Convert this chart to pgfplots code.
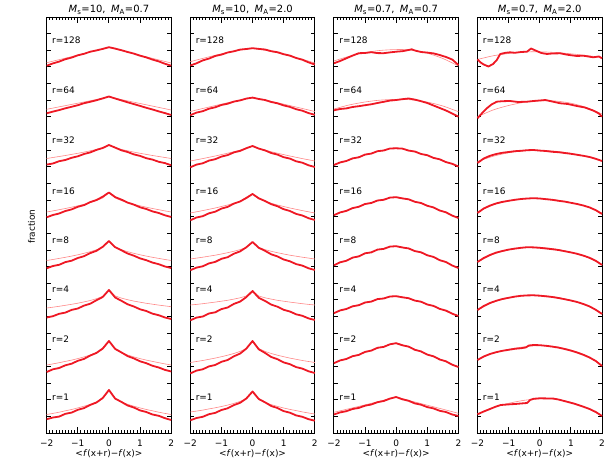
\documentclass[border=0pt]{standalone}
\usepackage{fontspec}
\setmainfont{DejaVu Sans}
\usepackage{pgfplots}
\pgfplotsset{compat=1.18}
\usetikzlibrary{calc}
\definecolor{datared}{RGB}{238,24,36}
\definecolor{fitred}{RGB}{255,135,135}
\newcommand{\lbl}{\fontsize{9}{10}\selectfont}
\pgfplotsset{
  panel/.style={
    scale only axis, width=124.5bp, height=416bp,
    xmin=-2, xmax=2, ymin=-433, ymax=-17,
    clip=false,
    axis line style={line width=0.9bp, black},
    xtick={-2,-1,0,1,2},
    xticklabels={−2,−1,0,1,2},
    ytick={-433,-416.36,...,-16},
    yticklabels={},
    ytick pos=both,
    tick align=inside,
    major tick length=3.8bp,
    ytick style={line width=0.9bp, black},
    xtick style={draw=none},
    xticklabel style={font=\lbl, anchor=base, yshift=-13.7bp},
  },
  dat/.style={datared, line width=1.8bp, line join=round, mark=none},
  fitc/.style={fitred, line width=0.6bp, mark=none},
  fits/.style={fitred, line width=0.6bp, mark=none, smooth},
}
\newcommand{\xticks}{%
  \pgfplotsinvokeforeach{-1.9,-1.8,...,1.95}{%
    \draw[line width=0.9bp, black] (axis cs:##1,-433) -- (axis cs:##1,-429.5);
    \draw[line width=0.9bp, black] (axis cs:##1,-17) -- (axis cs:##1,-20.5);}
  \pgfplotsinvokeforeach{-1,0,1}{%
    \draw[line width=1bp, black] (axis cs:##1,-433) -- (axis cs:##1,-427);
    \draw[line width=1bp, black] (axis cs:##1,-17) -- (axis cs:##1,-23);}
}
\newcommand{\rlabels}{%
  \node[anchor=west, inner sep=0, font=\lbl] at (axis cs:-1.83,-40.7) {r=128};
  \node[anchor=west, inner sep=0, font=\lbl] at (axis cs:-1.83,-90) {r=64};
  \node[anchor=west, inner sep=0, font=\lbl] at (axis cs:-1.83,-140) {r=32};
  \node[anchor=west, inner sep=0, font=\lbl] at (axis cs:-1.83,-191) {r=16};
  \node[anchor=west, inner sep=0, font=\lbl] at (axis cs:-1.83,-240) {r=8};
  \node[anchor=west, inner sep=0, font=\lbl] at (axis cs:-1.83,-289.5) {r=4};
  \node[anchor=west, inner sep=0, font=\lbl] at (axis cs:-1.83,-339) {r=2};
  \node[anchor=west, inner sep=0, font=\lbl] at (axis cs:-1.83,-397) {r=1};
}
\newcommand{\ptitle}[2]{%
  \node[anchor=base, inner sep=0, font=\fontsize{10}{12}\selectfont] at (axis cs:0,-12.8)
    {\textit{M}\textsubscript{s}=#1,\hspace{0.55em}\textit{M}\textsubscript{A}=#2};
}
\begin{document}
\begin{tikzpicture}
% ---------------- Panel 1: Ms=10, MA=0.7
\begin{axis}[panel, at={(0bp,0bp)}, anchor=south west]
\coordinate (BL) at (axis cs:-2,-433);
\ptitle{10}{0.7}
\rlabels
\xticks
% r=128
\addplot[fitc] coordinates {(-2,-62.7)(-1,-55.1)(0,-47.5)(1,-55.25)(2,-63.0)};
\addplot[dat] coordinates {(-2,-65.7)(-1.8,-63.4)(-1.6,-61.6)(-1.4,-59.2)(-1.2,-57.6)(-1,-55.3)(-0.8,-53.8)(-0.6,-51.7)(-0.4,-50.4)(-0.2,-48.9)(0,-47.2)(0.2,-48.6)(0.4,-50.2)(0.6,-52.0)(0.8,-53.6)(1,-55.7)(1.2,-57.4)(1.4,-59.6)(1.6,-61.4)(1.8,-63.8)(2,-65.7)};
% r=64
\addplot[fitc] coordinates {(-2,-109.3)(-1,-103.2)(0,-97)(1,-103.5)(2,-110)};
\addplot[dat] coordinates {(-2,-113.3)(-1.8,-111.6)(-1.6,-110.1)(-1.4,-108.3)(-1.2,-106.8)(-1,-105.2)(-0.8,-103.2)(-0.6,-101.8)(-0.4,-100.2)(-0.2,-98.4)(0,-96.5)(0.2,-98.5)(0.4,-100.4)(0.6,-102.3)(0.8,-104.1)(1,-105.9)(1.2,-107.8)(1.4,-109.5)(1.6,-111.4)(1.8,-113.1)(2,-115)};
% r=32
\addplot[fitc] coordinates {(-2,-158.5)(-1.8,-157.5)(-1.6,-156.5)(-1.4,-155.5)(-1.2,-154.4)(-1,-153.3)(-0.8,-152.1)(-0.6,-150.8)(-0.4,-149.4)(-0.2,-147.7)(0,-145)(0.2,-147.7)(0.4,-149.4)(0.6,-150.8)(0.8,-152.1)(1,-153.3)(1.2,-154.4)(1.4,-155.5)(1.6,-156.5)(1.8,-157.5)(2,-158.5)};
\addplot[dat] coordinates {(-2,-164.6)(-1.8,-163.5)(-1.6,-161.2)(-1.4,-160.0)(-1.2,-157.8)(-1,-156.3)(-0.8,-154.0)(-0.6,-152.4)(-0.4,-149.9)(-0.2,-148.0)(0,-145.0)(0.2,-147.6)(0.4,-150.3)(0.6,-152.0)(0.8,-154.4)(1,-155.9)(1.2,-158.2)(1.4,-159.6)(1.6,-161.8)(1.8,-163.1)(2,-165.3)};
% r=16
\addplot[fitc] coordinates {(-2,-212)(-1.8,-210.9)(-1.6,-209.7)(-1.4,-208.5)(-1.2,-207.2)(-1,-205.8)(-0.8,-204.3)(-0.6,-202.6)(-0.4,-200.6)(-0.2,-198.0)(0,-192.5)(0.2,-198.0)(0.4,-200.6)(0.6,-202.6)(0.8,-204.3)(1,-205.8)(1.2,-207.2)(1.4,-208.5)(1.6,-209.7)(1.8,-210.9)(2,-212)};
\addplot[dat] coordinates {(-2,-217.3)(-1.8,-215.0)(-1.6,-213.5)(-1.4,-211.0)(-1.2,-209.4)(-1,-206.8)(-0.8,-205.1)(-0.6,-202.1)(-0.4,-200.0)(-0.2,-196.7)(0,-192.5)(0.2,-197.1)(0.4,-199.6)(0.6,-202.6)(0.8,-204.6)(1,-207.3)(1.2,-209.0)(1.4,-211.4)(1.6,-213.0)(1.8,-215.3)(2,-217)};
% r=8
\addplot[fitc] coordinates {(-2,-260.5)(-1.8,-259.5)(-1.6,-258.4)(-1.4,-257.3)(-1.2,-256.1)(-1,-254.8)(-0.8,-253.3)(-0.6,-251.7)(-0.4,-249.7)(-0.2,-247.2)(0,-241)(0.2,-247.2)(0.4,-249.7)(0.6,-251.7)(0.8,-253.3)(1,-254.8)(1.2,-256.1)(1.4,-257.3)(1.6,-258.4)(1.8,-259.5)(2,-260.5)};
\addplot[dat] coordinates {(-2,-268.3)(-1.8,-266.0)(-1.6,-264.8)(-1.4,-262.1)(-1.2,-260.7)(-1,-258.0)(-0.8,-256.2)(-0.6,-253.1)(-0.4,-250.8)(-0.2,-246.8)(0,-241)(0.2,-247.2)(0.4,-250.3)(0.6,-253.5)(0.8,-255.7)(1,-258.4)(1.2,-260.2)(1.4,-262.6)(1.6,-264.2)(1.8,-266.5)(2,-268)};
% r=4
\addplot[fitc] coordinates {(-2,-308)(-1.8,-307.2)(-1.6,-306.3)(-1.4,-305.3)(-1.2,-304.3)(-1,-303.2)(-0.8,-301.9)(-0.6,-300.5)(-0.4,-298.7)(-0.2,-296.4)(0,-290)(0.2,-295.9)(0.4,-298.1)(0.6,-299.7)(0.8,-301.1)(1,-302.2)(1.2,-303.3)(1.4,-304.2)(1.6,-305.1)(1.8,-305.9)(2,-306.7)};
\addplot[dat] coordinates {(-2,-317.5)(-1.8,-316.2)(-1.6,-313.8)(-1.4,-312.6)(-1.2,-309.9)(-1,-308.5)(-0.8,-305.6)(-0.6,-303.7)(-0.4,-300.2)(-0.2,-297.0)(0,-290)(0.2,-297.5)(0.4,-300.8)(0.6,-304.3)(0.8,-306.5)(1,-309.3)(1.2,-311.0)(1.4,-313.7)(1.6,-315.2)(1.8,-317.5)(2,-319)};
% r=2
\addplot[fitc] coordinates {(-2,-365)(-1.8,-363.9)(-1.6,-362.7)(-1.4,-361.4)(-1.2,-360.1)(-1,-358.6)(-0.8,-356.9)(-0.6,-355.0)(-0.4,-352.6)(-0.2,-349.5)(0,-341)(0.2,-349.5)(0.4,-352.6)(0.6,-355.0)(0.8,-356.9)(1,-358.6)(1.2,-360.1)(1.4,-361.4)(1.6,-362.7)(1.8,-363.9)(2,-365)};
\addplot[dat] coordinates {(-2,-372.0)(-1.8,-369.3)(-1.6,-368.0)(-1.4,-365.3)(-1.2,-363.7)(-1,-360.8)(-0.8,-358.9)(-0.6,-355.5)(-0.4,-352.9)(-0.2,-348.5)(0,-341)(0.2,-348.9)(0.4,-352.4)(0.6,-356.1)(0.8,-358.4)(1,-361.3)(1.2,-363.2)(1.4,-365.8)(1.6,-367.5)(1.8,-369.9)(2,-371.5)};
% r=1
\addplot[fitc] coordinates {(-2,-414.5)(-1.8,-413.4)(-1.6,-412.2)(-1.4,-410.8)(-1.2,-409.5)(-1,-407.9)(-0.8,-406.2)(-0.6,-404.3)(-0.4,-401.9)(-0.2,-398.7)(0,-390)(0.2,-398.7)(0.4,-401.9)(0.6,-404.3)(0.8,-406.2)(1,-407.9)(1.2,-409.5)(1.4,-410.8)(1.6,-412.2)(1.8,-413.4)(2,-414.5)};
\addplot[dat] coordinates {(-2,-419.2)(-1.8,-417.5)(-1.6,-416.6)(-1.4,-413.8)(-1.2,-412.6)(-1,-409.8)(-0.8,-408.1)(-0.6,-404.9)(-0.4,-402.5)(-0.2,-398.0)(0,-390)(0.2,-398.6)(0.4,-401.9)(0.6,-405.5)(0.8,-407.5)(1,-410.4)(1.2,-412.0)(1.4,-414.5)(1.6,-415.8)(1.8,-418.2)(2,-420)};
\end{axis}
% ---------------- Panel 2: Ms=10, MA=2.0
\begin{axis}[panel, at={(143.6bp,0bp)}, anchor=south west]
\ptitle{10}{2.0}
\rlabels
\xticks
% r=128
\addplot[fits] coordinates {(-2,-61.7)(-1.6,-58.4)(-1.2,-55.3)(-0.8,-52.5)(-0.4,-50.1)(0,-48.5)(0.4,-50.3)(0.8,-52.9)(1.2,-56.0)(1.6,-59.3)(2,-63.0)};
\addplot[dat] coordinates {(-2,-65.5)(-1.8,-63.3)(-1.6,-60.4)(-1.4,-58.6)(-1.2,-56.0)(-1,-54.6)(-0.8,-52.5)(-0.6,-51.3)(-0.4,-49.6)(-0.2,-49.0)(0,-48.2)(0.2,-48.9)(0.4,-49.5)(0.6,-51.2)(0.8,-52.2)(1,-54.2)(1.2,-55.6)(1.4,-58.0)(1.6,-59.7)(1.8,-62.4)(2,-64.5)};
% r=64
\addplot[fits] coordinates {(-2,-111.5)(-1.6,-108.5)(-1.2,-105.6)(-0.8,-102.7)(-0.4,-100.0)(0,-97.7)(0.4,-100.0)(0.8,-102.7)(1.2,-105.6)(1.6,-108.5)(2,-111.5)};
\addplot[dat] coordinates {(-2,-115.2)(-1.8,-112.6)(-1.6,-111.2)(-1.4,-108.7)(-1.2,-107.3)(-1,-105.0)(-0.8,-103.7)(-0.6,-101.6)(-0.4,-100.4)(-0.2,-98.6)(0,-97.6)(0.2,-99.0)(0.4,-100.0)(0.6,-102.0)(0.8,-103.3)(1,-105.4)(1.2,-106.9)(1.4,-109.2)(1.6,-110.7)(1.8,-113.1)(2,-114.8)};
% r=32
\addplot[fitc] coordinates {(-2,-161)(-1.8,-159.8)(-1.6,-158.6)(-1.4,-157.3)(-1.2,-156.0)(-1,-154.6)(-0.8,-153.2)(-0.6,-151.7)(-0.4,-150.1)(-0.2,-148.4)(0,-146)(0.2,-148.4)(0.4,-150.1)(0.6,-151.7)(0.8,-153.2)(1,-154.6)(1.2,-156.0)(1.4,-157.3)(1.6,-158.6)(1.8,-159.8)(2,-161)};
\addplot[dat] coordinates {(-2,-167.3)(-1.8,-164.6)(-1.6,-163.3)(-1.4,-160.6)(-1.2,-159.2)(-1,-156.6)(-0.8,-155.1)(-0.6,-152.4)(-0.4,-150.9)(-0.2,-148.2)(0,-146)(0.2,-148.6)(0.4,-150.4)(0.6,-153.0)(0.8,-154.6)(1,-157.2)(1.2,-158.6)(1.4,-161.3)(1.6,-162.7)(1.8,-165.3)(2,-167)};
% r=16
\addplot[fitc] coordinates {(-2,-213)(-1.8,-211.8)(-1.6,-210.6)(-1.4,-209.3)(-1.2,-208.0)(-1,-206.5)(-0.8,-205.0)(-0.6,-203.2)(-0.4,-201.2)(-0.2,-198.8)(0,-194)(0.2,-198.8)(0.4,-201.2)(0.6,-203.2)(0.8,-205.0)(1,-206.5)(1.2,-208.0)(1.4,-209.3)(1.6,-210.6)(1.8,-211.8)(2,-213)};
\addplot[dat] coordinates {(-2,-220.3)(-1.8,-217.5)(-1.6,-216.2)(-1.4,-213.3)(-1.2,-211.7)(-1,-208.6)(-0.8,-206.9)(-0.6,-203.6)(-0.4,-201.5)(-0.2,-197.9)(0,-194)(0.2,-198.3)(0.4,-201.0)(0.6,-204.2)(0.8,-206.2)(1,-209.2)(1.2,-211.0)(1.4,-213.9)(1.6,-215.5)(1.8,-218.2)(2,-220)};
% r=8
\addplot[fitc] coordinates {(-2,-259)(-1.8,-258.1)(-1.6,-257.2)(-1.4,-256.2)(-1.2,-255.2)(-1,-254.0)(-0.8,-252.7)(-0.6,-251.3)(-0.4,-249.6)(-0.2,-247.4)(0,-242)(0.2,-247.4)(0.4,-249.6)(0.6,-251.3)(0.8,-252.7)(1,-254.0)(1.2,-255.2)(1.4,-256.2)(1.6,-257.2)(1.8,-258.1)(2,-259)};
\addplot[dat] coordinates {(-2,-270.2)(-1.8,-267.6)(-1.6,-266.3)(-1.4,-263.4)(-1.2,-261.9)(-1,-258.8)(-0.8,-257.2)(-0.6,-253.7)(-0.4,-251.4)(-0.2,-247.3)(0,-242)(0.2,-247.8)(0.4,-250.8)(0.6,-254.3)(0.8,-256.4)(1,-259.5)(1.2,-261.3)(1.4,-264.1)(1.6,-265.6)(1.8,-268.3)(2,-270)};
% r=4
\addplot[fitc] coordinates {(-2,-305)(-1.8,-304.4)(-1.6,-303.7)(-1.4,-302.9)(-1.2,-302.1)(-1,-301.2)(-0.8,-300.3)(-0.6,-299.1)(-0.4,-297.8)(-0.2,-296.0)(0,-291)(0.2,-296.0)(0.4,-297.8)(0.6,-299.1)(0.8,-300.3)(1,-301.2)(1.2,-302.1)(1.4,-302.9)(1.6,-303.7)(1.8,-304.4)(2,-305)};
\addplot[dat] coordinates {(-2,-320.3)(-1.8,-317.6)(-1.6,-316.5)(-1.4,-313.5)(-1.2,-312.3)(-1,-309.1)(-0.8,-307.5)(-0.6,-303.9)(-0.4,-301.6)(-0.2,-297.1)(0,-291)(0.2,-297.8)(0.4,-300.9)(0.6,-304.6)(0.8,-306.7)(1,-309.8)(1.2,-311.5)(1.4,-314.3)(1.6,-315.8)(1.8,-318.4)(2,-320)};
% r=2
\addplot[fitc] coordinates {(-2,-362.5)(-1.8,-361.5)(-1.6,-360.5)(-1.4,-359.3)(-1.2,-358.1)(-1,-356.7)(-0.8,-355.2)(-0.6,-353.5)(-0.4,-351.4)(-0.2,-348.6)(0,-341)(0.2,-348.6)(0.4,-351.4)(0.6,-353.5)(0.8,-355.2)(1,-356.7)(1.2,-358.1)(1.4,-359.3)(1.6,-360.5)(1.8,-361.5)(2,-362.5)};
\addplot[dat] coordinates {(-2,-373.4)(-1.8,-370.6)(-1.6,-369.3)(-1.4,-366.4)(-1.2,-365.0)(-1,-361.8)(-0.8,-360.0)(-0.6,-356.3)(-0.4,-353.6)(-0.2,-348.6)(0,-341)(0.2,-349.3)(0.4,-352.9)(0.6,-357.0)(0.8,-359.2)(1,-362.4)(1.2,-364.2)(1.4,-367.1)(1.6,-368.6)(1.8,-371.3)(2,-373)};
% r=1
\addplot[fitc] coordinates {(-2,-412)(-1.8,-411.1)(-1.6,-410.1)(-1.4,-408.9)(-1.2,-407.8)(-1,-406.5)(-0.8,-405.1)(-0.6,-403.4)(-0.4,-401.4)(-0.2,-398.8)(0,-391.5)(0.2,-399.5)(0.4,-402.4)(0.6,-404.6)(0.8,-406.4)(1,-408.0)(1.2,-409.4)(1.4,-410.6)(1.6,-411.9)(1.8,-413.0)(2,-414)};
\addplot[dat] coordinates {(-2,-420.3)(-1.8,-418.0)(-1.6,-416.8)(-1.4,-414.2)(-1.2,-412.9)(-1,-410.0)(-0.8,-408.3)(-0.6,-405.1)(-0.4,-402.8)(-0.2,-398.5)(0,-391.5)(0.2,-399.0)(0.4,-402.3)(0.6,-406.0)(0.8,-408.0)(1,-411.1)(1.2,-412.7)(1.4,-415.4)(1.6,-416.8)(1.8,-419.2)(2,-420.7)};
\end{axis}
% ---------------- Panel 3: Ms=0.7, MA=0.7
\begin{axis}[panel, at={(287.2bp,0bp)}, anchor=south west]
\ptitle{0.7}{0.7}
\rlabels
\xticks
% r=128
\addplot[fits] coordinates {(-2,-61.0)(-1.5,-56.2)(-1,-52.7)(-0.5,-50.4)(0.1,-49.5)(0.5,-50.2)(1,-53.2)(1.5,-58.5)(2,-66.0)};
\addplot[dat] coordinates {(-2,-63.3)(-1.8,-61.0)(-1.6,-58.3)(-1.4,-55.6)(-1.2,-53.2)(-1,-53.0)(-0.8,-52.2)(-0.6,-53.1)(-0.4,-53.2)(-0.2,-52.4)(0,-51.7)(0.2,-51.2)(0.4,-50.0)(0.5,-49.3)(0.6,-50.5)(0.8,-52.0)(1,-52.6)(1.2,-53.4)(1.4,-55.0)(1.6,-57.0)(1.8,-59.5)(2,-65.0)};
% r=64
\addplot[fits] coordinates {(-2,-109)(-1.5,-104.9)(-1,-102.0)(-0.5,-100.1)(0.1,-99.3)(0.5,-99.9)(1,-102.1)(1.5,-106.0)(2,-111.7)};
\addplot[dat] coordinates {(-2,-110.3)(-1.8,-109.0)(-1.6,-108.4)(-1.4,-107.0)(-1.2,-106.2)(-1,-105.2)(-0.8,-104.3)(-0.6,-103.0)(-0.4,-101.8)(-0.2,-100.6)(0,-100.0)(0.2,-99.2)(0.4,-98.5)(0.6,-99.6)(0.8,-101.2)(1,-103.0)(1.2,-105.5)(1.4,-108.0)(1.6,-110.5)(1.8,-113.5)(2,-116.7)};
% r=32
\addplot[fits] coordinates {(-2,-165.2)(-1.6,-160.7)(-1.2,-156.8)(-0.8,-153.2)(-0.4,-150.1)(0,-148)(0.4,-150.3)(0.8,-153.6)(1.2,-157.5)(1.6,-161.8)(2,-166.5)};
\addplot[dat] coordinates {(-2,-165.0)(-1.8,-162.4)(-1.6,-161.0)(-1.4,-158.4)(-1.2,-157.3)(-1,-154.6)(-0.8,-153.6)(-0.6,-151.2)(-0.4,-150.5)(-0.2,-148.5)(0,-148.3)(0.2,-148.6)(0.4,-150.6)(0.6,-151.5)(0.8,-154.0)(1,-155.2)(1.2,-157.9)(1.4,-159.3)(1.6,-162.1)(1.8,-163.8)(2,-166.5)};
% r=16
\addplot[fits] coordinates {(-2,-215)(-1.6,-210.5)(-1.2,-206.3)(-0.8,-202.5)(-0.4,-199.2)(0,-197)(0.4,-199.6)(0.8,-203.4)(1.2,-207.8)(1.6,-212.7)(2,-218)};
\addplot[dat] coordinates {(-2,-215.2)(-1.8,-212.4)(-1.6,-210.9)(-1.4,-208.1)(-1.2,-206.8)(-1,-204.0)(-0.8,-203.0)(-0.6,-200.5)(-0.4,-199.8)(-0.2,-197.6)(0,-197.2)(0.2,-198.4)(0.4,-199.3)(0.6,-201.8)(0.8,-203.0)(1,-205.8)(1.2,-207.4)(1.4,-210.5)(1.6,-212.3)(1.8,-215.6)(2,-218)};
% r=8
\addplot[fits] coordinates {(-2,-265)(-1.6,-260.2)(-1.2,-255.8)(-0.8,-251.8)(-0.4,-248.3)(0,-246)(0.4,-248.7)(0.8,-252.7)(1.2,-257.3)(1.6,-262.5)(2,-268)};
\addplot[dat] coordinates {(-2,-265.3)(-1.8,-262.3)(-1.6,-260.8)(-1.4,-257.6)(-1.2,-256.4)(-1,-253.3)(-0.8,-252.4)(-0.6,-249.6)(-0.4,-248.9)(-0.2,-246.6)(0,-246.2)(0.2,-247.5)(0.4,-248.4)(0.6,-251.1)(0.8,-252.3)(1,-255.3)(1.2,-256.9)(1.4,-260.2)(1.6,-262.0)(1.8,-265.5)(2,-268)};
% r=4
\addplot[fits] coordinates {(-2,-313)(-1.6,-308.7)(-1.2,-304.8)(-0.8,-301.2)(-0.4,-298.1)(0,-296)(0.4,-298.5)(0.8,-302.1)(1.2,-306.3)(1.6,-311.0)(2,-316)};
\addplot[dat] coordinates {(-2,-313.2)(-1.8,-310.4)(-1.6,-309.0)(-1.4,-306.3)(-1.2,-305.2)(-1,-302.5)(-0.8,-301.6)(-0.6,-299.1)(-0.4,-298.5)(-0.2,-296.5)(0,-296.2)(0.2,-297.3)(0.4,-298.2)(0.6,-300.6)(0.8,-301.7)(1,-304.5)(1.2,-305.9)(1.4,-308.9)(1.6,-310.6)(1.8,-313.7)(2,-316)};
% r=2
\addplot[fits] coordinates {(-2,-363)(-1.6,-358.6)(-1.2,-354.4)(-0.8,-350.3)(-0.4,-346.4)(0,-343)(0.4,-347.1)(0.8,-351.8)(1.2,-356.7)(1.6,-361.8)(2,-367)};
\addplot[dat] coordinates {(-2,-363.2)(-1.8,-360.4)(-1.6,-359.0)(-1.4,-356.2)(-1.2,-354.9)(-1,-351.9)(-0.8,-350.6)(-0.6,-347.8)(-0.4,-346.9)(-0.2,-344.3)(0,-343.2)(0.2,-345.3)(0.4,-346.6)(0.6,-349.8)(0.8,-351.4)(1,-354.6)(1.2,-356.3)(1.4,-359.5)(1.6,-361.3)(1.8,-364.7)(2,-367)};
% r=1
\addplot[fits] coordinates {(-2,-412.3)(-1.5,-408.6)(-1,-404.9)(-0.5,-401.0)(0,-397.5)(0.5,-401.2)(1,-405.2)(1.5,-409.2)(2,-413.3)};
\addplot[dat] coordinates {(-2,-414.5)(-1.8,-412.4)(-1.6,-411.2)(-1.4,-409.0)(-1.2,-407.9)(-1,-405.7)(-0.8,-404.5)(-0.6,-402.2)(-0.4,-401.0)(-0.2,-398.6)(0,-397.0)(0.2,-399.3)(0.4,-400.8)(0.6,-403.4)(0.8,-404.7)(1,-407.1)(1.2,-408.4)(1.4,-410.8)(1.6,-412.0)(1.8,-414.5)(2,-416)};
\end{axis}
% ---------------- Panel 4: Ms=0.7, MA=2.0
\begin{axis}[panel, at={(430.8bp,0bp)}, anchor=south west]
\ptitle{0.7}{2.0}
\rlabels
\xticks
% r=128
\addplot[fits] coordinates {(-2,-59.5)(-1.5,-55.8)(-1,-53.5)(-0.5,-52.0)(0,-51.8)(0.5,-52.5)(1,-53.8)(1.5,-55.5)(2,-57.5)};
\addplot[dat] coordinates {(-2,-59.3)(-1.9,-62.5)(-1.8,-64.5)(-1.65,-66.5)(-1.5,-64.0)(-1.38,-60.0)(-1.27,-54.0)(-1.1,-52.8)(-0.95,-52.3)(-0.8,-52.8)(-0.6,-52.0)(-0.41,-51.7)(-0.28,-48.5)(-0.1,-51.0)(0.05,-53.0)(0.23,-54.0)(0.4,-53.5)(0.66,-53.3)(0.9,-54.8)(1.19,-56.0)(1.4,-55.7)(1.72,-57.3)(1.9,-56.5)(2,-58.3)};
% r=64
\addplot[fits] coordinates {(-2,-116.7)(-1.5,-110.0)(-1,-105.5)(-0.5,-102.3)(0,-100.8)(0.5,-101.0)(1,-103.2)(1.5,-107.5)(2,-114.0)};
\addplot[dat] coordinates {(-2,-118.3)(-1.85,-113.0)(-1.7,-108.3)(-1.55,-104.5)(-1.38,-101.7)(-1.2,-101.2)(-0.95,-101.0)(-0.7,-102.0)(-0.41,-101.7)(-0.2,-101.0)(0,-100.5)(0.18,-100.0)(0.4,-101.5)(0.66,-103.3)(0.9,-104.0)(1.19,-106.0)(1.45,-107.5)(1.73,-110.7)(1.9,-113.5)(2,-116.7)};
% r=32
\addplot[fits] coordinates {(-2,-161.5)(-1.5,-156.3)(-1,-152.8)(-0.5,-150.8)(0,-150.3)(0.5,-151.2)(1,-153.3)(1.5,-156.5)(2,-161.0)};
\addplot[dat] coordinates {(-2,-163.0)(-1.8,-158.5)(-1.6,-155.8)(-1.4,-154.0)(-1.2,-152.8)(-1,-152.0)(-0.8,-151.2)(-0.6,-150.8)(-0.4,-150.2)(-0.2,-150.0)(0,-150.6)(0.2,-151.0)(0.4,-151.8)(0.6,-152.2)(0.8,-153.0)(1,-153.8)(1.2,-154.8)(1.4,-155.8)(1.6,-157.0)(1.8,-158.8)(2,-161.0)};
% r=16
\addplot[fits] coordinates {(-2,-212.0)(-1.5,-205.0)(-1,-201.0)(-0.5,-198.9)(0,-198.4)(0.5,-199.8)(1,-202.6)(1.5,-206.6)(2,-213.0)};
\addplot[dat] coordinates {(-2,-213.0)(-1.8,-208.5)(-1.6,-205.6)(-1.4,-203.4)(-1.2,-201.9)(-1,-200.8)(-0.8,-199.8)(-0.6,-199.0)(-0.4,-198.5)(-0.2,-198.2)(0,-198.5)(0.2,-199.2)(0.4,-199.8)(0.6,-200.8)(0.8,-201.6)(1,-202.8)(1.2,-204.0)(1.4,-205.5)(1.6,-207.4)(1.8,-210.2)(2,-214.0)};
% r=8
\addplot[fits] coordinates {(-2,-262.0)(-1.5,-254.3)(-1,-250.0)(-0.5,-247.6)(0,-247.3)(0.5,-249.0)(1,-252.3)(1.5,-257.0)(2,-264.5)};
\addplot[dat] coordinates {(-2,-262.0)(-1.8,-258.0)(-1.6,-255.0)(-1.4,-252.6)(-1.2,-251.0)(-1,-249.6)(-0.8,-248.6)(-0.6,-247.8)(-0.4,-247.2)(-0.2,-247.4)(0,-247.8)(0.2,-248.5)(0.4,-249.2)(0.6,-250.0)(0.8,-251.2)(1,-252.4)(1.2,-253.8)(1.4,-255.6)(1.6,-257.8)(1.8,-260.8)(2,-265.0)};
% r=4
\addplot[fits] coordinates {(-2,-310.0)(-1.5,-302.3)(-1,-298.0)(-0.5,-295.6)(0,-295.3)(0.5,-297.0)(1,-300.4)(1.5,-305.2)(2,-313.5)};
\addplot[dat] coordinates {(-2,-310.0)(-1.8,-306.0)(-1.6,-303.0)(-1.4,-300.8)(-1.2,-299.0)(-1,-297.8)(-0.8,-296.6)(-0.6,-295.8)(-0.4,-295.4)(-0.2,-295.3)(0,-295.7)(0.2,-296.3)(0.4,-297.0)(0.6,-298.0)(0.8,-299.2)(1,-300.5)(1.2,-302.0)(1.4,-304.0)(1.6,-306.4)(1.8,-309.8)(2,-314.0)};
% r=2
\addplot[fits] coordinates {(-2,-359.5)(-1.5,-353.0)(-1,-349.3)(-0.5,-346.8)(0,-345.6)(0.5,-346.6)(1,-350.0)(1.5,-355.6)(2,-365.5)};
\addplot[dat] coordinates {(-2,-360.0)(-1.8,-356.5)(-1.6,-354.0)(-1.4,-352.2)(-1.2,-350.8)(-1,-349.8)(-0.8,-348.8)(-0.6,-348.2)(-0.45,-347.5)(-0.35,-345.5)(-0.2,-345.0)(0,-345.2)(0.2,-345.8)(0.4,-346.6)(0.6,-347.6)(0.8,-349.0)(1,-350.6)(1.2,-352.5)(1.4,-354.8)(1.6,-357.5)(1.8,-361.0)(2,-366.0)};
% r=1
\addplot[fits] coordinates {(-2,-414.0)(-1.5,-407.5)(-1,-403.3)(-0.5,-400.3)(0,-398.8)(0.5,-399.2)(1,-402.3)(1.5,-407.8)(2,-415.5)};
\addplot[dat] coordinates {(-2,-414.3)(-1.8,-411.5)(-1.6,-409.0)(-1.4,-406.5)(-1.25,-405.0)(-1,-404.4)(-0.8,-404.0)(-0.6,-403.5)(-0.41,-403.0)(-0.31,-400.0)(-0.2,-398.8)(0,-398.3)(0.2,-398.4)(0.44,-398.6)(0.6,-399.5)(0.87,-401.7)(1.1,-403.6)(1.4,-406.7)(1.6,-409.0)(1.8,-412.0)(2,-416.0)};
\end{axis}
% ---------------- outer labels
\foreach \k in {0,1,2,3} {
  \node[anchor=base, inner sep=0, font=\lbl] at ($(BL)+(\k*143.6bp+62.25bp,-23.5bp)$) {<\textit{f}(x+r)−\textit{f}(x)>};
}
\node[rotate=90, anchor=center, inner sep=0, font=\lbl] at ($(BL)+(-15.2bp,206.3bp)$) {fraction};
\pgfresetboundingbox
\path[use as bounding box] ($(BL)+(-46.7bp,-39bp)$) rectangle ($(BL)+(568.3bp,433bp)$);
\end{tikzpicture}
\end{document}
